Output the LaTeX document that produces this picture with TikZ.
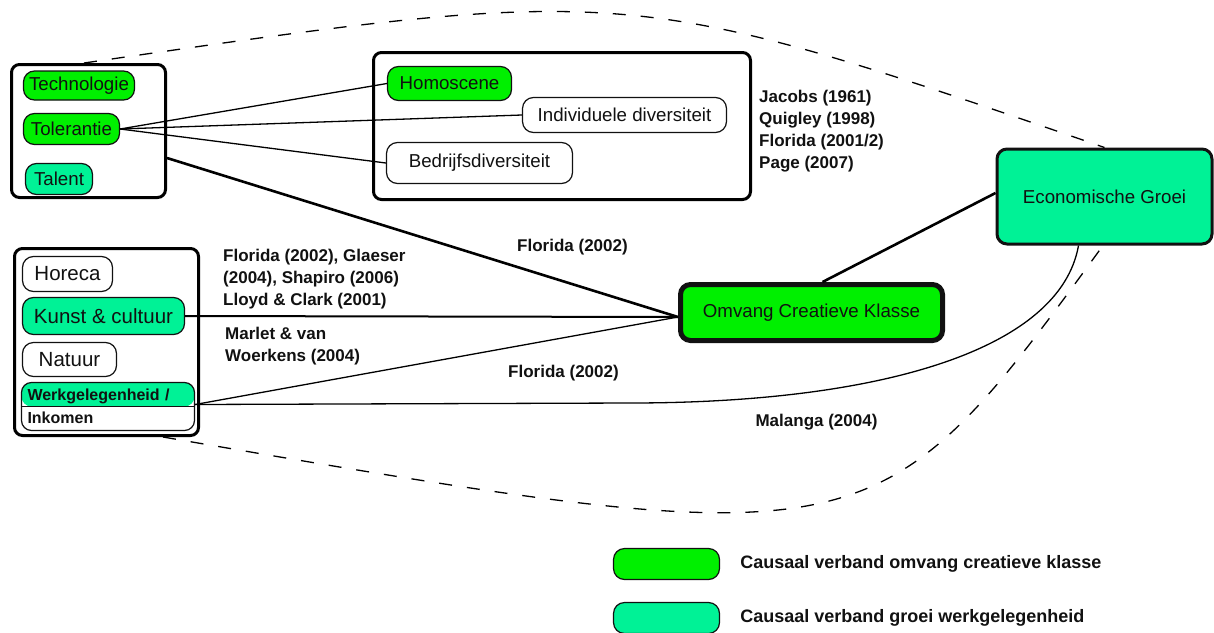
\documentclass[tikz,border=0pt]{standalone}
\usepackage{fontspec}
\setmainfont{Liberation Sans}
\usetikzlibrary{calc,positioning}
\definecolor{lime}{HTML}{00F000}
\definecolor{mint}{HTML}{00F296}
\definecolor{ink}{HTML}{111111}
\tikzset{
  every node/.style={font=\fontsize{18.7}{22}\selectfont,text=ink},
  grp/.style={draw=black,line width=3pt,rounded corners=8pt},
  pill/.style={draw=ink,line width=1.2pt,rounded corners=11pt,inner sep=0pt,fill=white},
  big/.style={pill,font=\fontsize{20.5}{24}\selectfont},
  cite/.style={font=\fontsize{17}{22}\selectfont\bfseries,align=left,inner sep=0pt,anchor=west},
  legendbox/.style={draw=ink,line width=1.2pt,rounded corners=11pt,minimum width=106,minimum height=31},
  keytxt/.style={font=\fontsize{18}{22}\selectfont\bfseries,anchor=west,inner sep=0pt},
  link/.style={line width=1.3pt},
  strong/.style={line width=2.6pt},
  vague/.style={line width=1.3pt,dash pattern=on 13pt off 15pt},
}
\begin{document}
\begin{tikzpicture}[x=1pt,y=-1pt]
  \path[use as bounding box,fill=white] (0,0) rectangle (1214,632);
  \node[grp,minimum width=154,minimum height=133] (grpA) at (88.5,131) {};
  \node[pill,fill=lime,minimum width=111,minimum height=29] (tech) at (79,85.5) {Technologie};
  \node[pill,fill=lime,minimum width=96,minimum height=31] (tol) at (71.5,129) {Tolerantie};
  \node[pill,fill=mint,minimum width=67,minimum height=31] (talent) at (59,179) {Talent};
  \node[grp,minimum width=377,minimum height=147] (grpB) at (562,126) {};
  \node[pill,fill=lime,minimum width=124,minimum height=34] (homo) at (449.5,83.5) {Homoscene};
  \node[pill,minimum width=204,minimum height=35] (indiv) at (624.5,115) {Individuele diversiteit};
  \node[pill,minimum width=186,minimum height=41] (bedrijf) at (479.5,163) {Bedrijfsdiversiteit};
  \node[cite] (citeB) at (759,131) {Jacobs (1961)\\Quigley (1998)\\Florida (2001/2)\\Page (2007)};
  \node[pill,fill=mint,line width=3pt,rounded corners=10pt,minimum width=215,minimum height=95] (econ) at (1104.5,196.5) {Economische Groei};
  \node[pill,fill=lime,line width=5pt,rounded corners=10pt,minimum width=262,minimum height=56] (omvang) at (811.5,312.5) {Omvang Creatieve Klasse};
  \node[grp,minimum width=184,minimum height=187] (grpC) at (106.5,342) {};
  \node[big,minimum width=90,minimum height=35] (horeca) at (67.5,274) {Horeca};
  \node[big,fill=mint,minimum width=162,minimum height=37] (kunst) at (103.5,316) {Kunst \& cultuur};
  \node[big,minimum width=94,minimum height=34] (natuur) at (69.5,359.5) {Natuur};
  \node[pill,rounded corners=10pt,minimum width=173,minimum height=48,inner xsep=6pt,text width=161pt,align=left,
    font=\fontsize{16}{23}\selectfont\bfseries,
    path picture={\fill[mint] (path picture bounding box.north west) rectangle (path picture bounding box.east);
      \draw[line width=1.2pt] (path picture bounding box.west) -- (path picture bounding box.east);}]
    (werk) at (108,406.5) {Werkgelegenheid /\\Inkomen};
  \node[cite] (citeC) at (223,279) {Florida (2002), Glaeser\\(2004), Shapiro (2006)\\Lloyd \& Clark (2001)};
  \node[cite] (citeD) at (225,346) {Marlet \& van\\Woerkens (2004)};
  \node[cite,anchor=center] (citeE) at (572.5,247) {Florida (2002)};
  \node[cite,anchor=center] (citeF) at (563.5,373) {Florida (2002)};
  \node[cite,anchor=center] (citeG) at (816.5,422) {Malanga (2004)};
  \node[legendbox,fill=lime] (keyA) at (666.5,564) {};
  \node[legendbox,fill=mint] (keyB) at (666.5,618) {};
  \node[keytxt,right=20pt of keyA] (keyAtxt) {Causaal verband omvang creatieve klasse};
  \node[keytxt,right=20pt of keyB] (keyBtxt) {Causaal verband groei werkgelegenheid};
  \coordinate (cin) at ([yshift=-4.5pt]omvang.west);
  \coordinate (bend) at (630,403);
  \draw[link] (tol.east) -- (homo.west);
  \draw[link] (tol.east) -- (indiv.west);
  \draw[link] (tol.east) -- (bedrijf.west);
  \draw[strong] ([yshift=-27pt]grpA.east) -- (cin);
  \draw[line width=2pt] (kunst.east) -- (cin);
  \draw[link] ([yshift=2pt]werk.east) -- (cin);
  \draw[link] ([yshift=2pt]werk.east) -- (bend) .. controls (880,403) and (1060,350) .. ([xshift=-26pt]econ.south);
  \draw[strong] ([xshift=11pt]omvang.north) -- ([yshift=3.5pt]econ.west);
  \draw[vague] ([xshift=-4.5pt]grpA.north) .. controls (630,-16) .. (econ.north);
  \draw[vague] ([xshift=56.5pt]grpC.south) .. controls (874,559) .. ([xshift=-1.5pt]econ.south);
\end{tikzpicture}
\end{document}
